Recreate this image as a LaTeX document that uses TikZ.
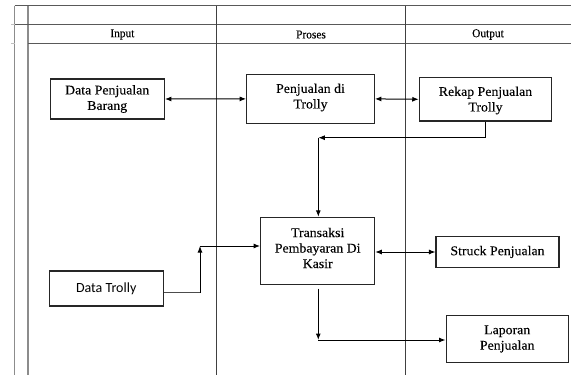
\documentclass[tikz,border=0pt]{standalone}
\usepackage{fontspec}
\setmainfont{Liberation Serif}[FakeStretch=1.04,FakeBold=0.15]
\newfontfamily\hdrfont{Liberation Serif}[FakeStretch=0.95,FakeBold=0.15]
\newfontfamily\sansf{Carlito}
\usetikzlibrary{arrows.meta}
\begin{document}
\begin{tikzpicture}[x=1pt,y=-1pt,
  gridv/.style={draw=black!45,line width=1.1pt},
  gridh/.style={draw=black!65,line width=1.1pt},
  gridd/.style={draw=black!75,line width=1.1pt},
  box/.style={draw=black!85,line width=1.1pt,inner sep=0pt},
  txt/.style={align=center,font=\fontsize{13.3}{15.5}\selectfont,inner sep=0pt},
  hdr/.style={font=\hdrfont\fontsize{12}{13}\selectfont,inner sep=0pt},
  conn/.style={draw=black,line width=1pt},
  arr/.style={conn,-{Latex[length=6.5pt,width=5pt]}},
  darr/.style={conn,{Latex[length=6.5pt,width=5pt]}-{Latex[length=6.5pt,width=5pt]}}
]
\useasboundingbox (0,0) rectangle (571,375);
% grid
\draw[gridv] (14.7,5.7) -- (14.7,375);
\draw[gridv] (28,5.7) -- (28,375);
\draw[gridh] (14.7,5.7) -- (571,5.7);
\draw[gridh] (14.7,24.7) -- (571,24.7);
\draw[gridh] (28,43.3) -- (571,43.3);
\draw[gridd] (216.7,5.7) -- (216.7,375);
\draw[gridd] (405.3,5.7) -- (405.3,375);
\draw[draw=black!25,line width=0.6pt] (11,24.7) -- (14.7,24.7);
\draw[draw=black!25,line width=0.6pt] (11,43.3) -- (14.7,43.3);
% headers
\node[hdr] (hin) at (122.4,34.5) {Input};
\node[hdr] (hpr) at (311,34.5) {Proses};
\node[hdr] (hout) at (488,34.5) {Output};
% boxes
\node[box,minimum width=114.3pt,minimum height=40pt] (dpb) at (107.2,99) {};
\node[txt] (dpbt) at (dpb.center) {Data Penjualan\\Barang};
\node[box,minimum width=127.6pt,minimum height=48.3pt] (pdt) at (310.5,98.9) {};
\node[txt] (pdtt) at (310.5,97.5) {Penjualan di\\Trolly};
\node[box,minimum width=132.4pt,minimum height=43.3pt] (rpt) at (485.5,99.3) {};
\node[txt] (rptt) at (485.5,100.5) {Rekap Penjualan\\Trolly};
\node[box,minimum width=114pt,minimum height=66.7pt] (tpk) at (317.7,250.7) {};
\node[txt] (tpkt) at (317.7,248) {Transaksi\\Pembayaran Di\\Kasir};
\node[box,minimum width=123pt,minimum height=30.6pt] (sp) at (497.5,252) {};
\node[txt] (spt) at (sp.center) {Struck Penjualan};
\node[box,minimum width=122.3pt,minimum height=47.4pt] (lp) at (507.2,339) {};
\node[txt] (lpt) at (lp.center) {Laporan\\Penjualan};
\node[box,minimum width=114.3pt,minimum height=35pt] (dt) at (106.2,288.5) {};
\node[txt,font=\sansf\fontsize{14}{16}\selectfont] (dtt) at (dt.center) {Data Trolly};
% helper coordinates
\coordinate (c1) at (318.3,137.7);
\coordinate (c3) at (318.3,340);
\coordinate (c4) at (200,246);
\coordinate (c5) at (200,292.7);
% connectors
\draw[darr] (dpb.east) -- (pdt.west);
\draw[darr] (pdt.east) -- (rpt.west);
\draw[arr] (rpt.south) -- (rpt.south |- c1) -- (c1);
\draw[arr] (c1) -- (c1 |- tpk.north);
\draw[darr] (tpk.east |- sp.west) -- (sp.west);
\draw[arr,shorten <=4pt] (c1 |- tpk.south) -- (c3);
\draw[arr] (c3) -- (c3 -| lp.west);
\draw[conn,draw=black!70] (c5 -| dt.east) -- (c5);
\draw[arr] (c5) -- (c4);
\draw[arr] (c4) -- (c4 -| tpk.west);
\end{tikzpicture}
\end{document}
